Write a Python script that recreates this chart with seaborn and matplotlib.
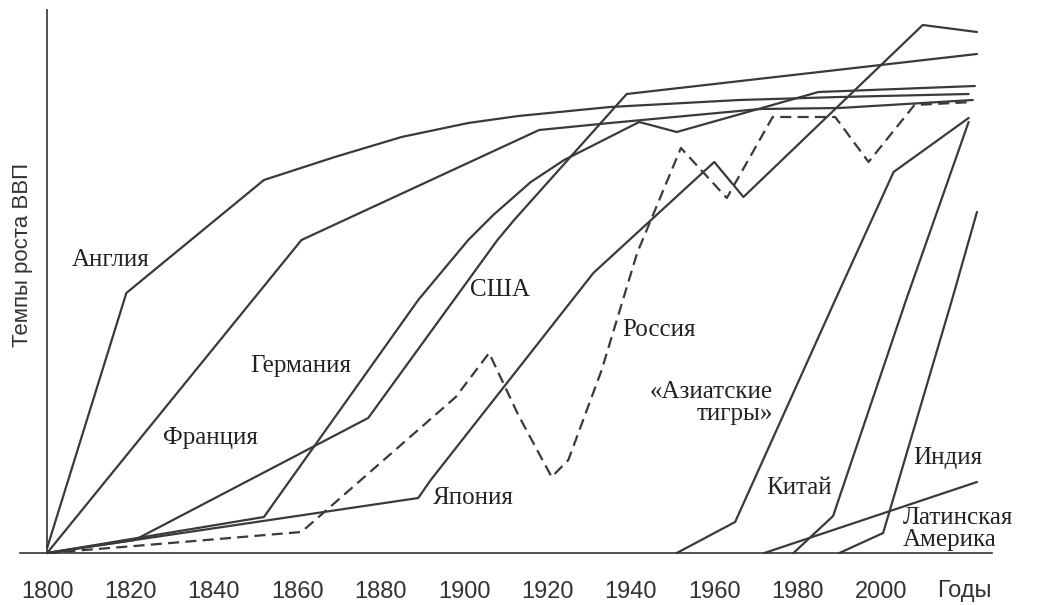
import seaborn as sns
import matplotlib.pyplot as plt
import pandas as pd

# Values (schematic GDP growth curves)
england_years = [1800, 1819, 1852, 1869, 1885, 1901, 1913, 1935, 1966, 1990, 2021]
england_vals = [1, 52, 74.6, 79.2, 83.2, 86, 87.4, 89.2, 90.6, 91.2, 91.8]

france_years = [1800, 1861, 1918, 1935, 1971, 1990, 2022]
france_vals = [0, 62.6, 84.6, 86, 88.8, 89, 90.6]

germany_years = [1800, 1852, 1889, 1895, 1901, 1907, 1916, 1924, 1942, 1951, 1985, 2022.5]
germany_vals = [0, 7.2, 50.6, 56.6, 62.6, 67.6, 74.2, 78.6, 86.2, 84.2, 92.2, 93.4]

usa_years = [1800, 1821, 1877, 1908, 1912, 1921, 1939, 2023]
usa_vals = [0, 2.6, 27, 62.6, 66.6, 75, 91.8, 99.8]

japan_years = [1800, 1889, 1892, 1931, 1960, 1967, 2010, 2023]
japan_vals = [0, 11, 14.6, 56, 78.2, 71.2, 105.6, 104.2]

russia_years = [1800, 1821, 1861, 1898, 1906, 1913, 1921, 1925, 1933, 1941.5,
                1952, 1963, 1974, 1989, 1997, 2008, 2022]
russia_vals = [0, 1.4, 4.2, 31.2, 40, 27.6, 15.2, 18.6, 36.6, 60,
               81, 71, 87.2, 87.2, 78.2, 89.6, 90.2]

tigers_years = [1951, 1965, 1989, 2003, 2021]
tigers_vals = [0, 6.2, 50.6, 76.2, 87]

china_years = [1979, 1988.5, 2006, 2021]
china_vals = [0, 7.4, 50.6, 86.2]

india_years = [1990, 2000.5, 2017, 2023]
india_vals = [0, 4, 50.6, 68.2]

latam_years = [1972, 2023]
latam_vals = [0, 14.2]

tick_years = list(range(1800, 2001, 20))

series = {
    'Англия': (england_years, england_vals),
    'Франция': (france_years, france_vals),
    'Германия': (germany_years, germany_vals),
    'США': (usa_years, usa_vals),
    'Япония': (japan_years, japan_vals),
    'Россия': (russia_years, russia_vals),
    'Тигры': (tigers_years, tigers_vals),
    'Китай': (china_years, china_vals),
    'Индия': (india_years, india_vals),
    'Латинская Америка': (latam_years, latam_vals),
}

# long-form table for seaborn
rows = []
for name, (yrs, vals) in series.items():
    for yr, v in zip(yrs, vals):
        rows.append({'country': name, 'year': yr, 'value': v})
df = pd.DataFrame(rows)

line_col = '#3a3a3a'
text_col = '#222222'

sns.set_style('white')
plt.rcParams['font.family'] = ['Liberation Sans', 'DejaVu Sans']

fig = plt.figure(figsize=(10.37, 6.05), dpi=100)
ax = fig.add_axes([0, 0, 1, 1])

palette = {c: line_col for c in series}
dashes = {c: '' for c in series}
dashes['Россия'] = (5, 2.8)
sns.lineplot(data=df, x='year', y='value', hue='country', style='country',
             palette=palette, dashes=dashes, estimator=None, sort=False,
             linewidth=1.6, legend=False, ax=ax)

ax.set_xlim(1788.7, 2037.4)
ax.set_ylim(-10.4, 110.6)

# axes as in the textbook figure
for s in ['top', 'right']:
    ax.spines[s].set_visible(False)
ax.spines['left'].set_position(('data', 1800))
ax.spines['bottom'].set_position(('data', 0))
ax.spines['left'].set_bounds(0, 108.6)
ax.spines['bottom'].set_bounds(1793.5, 2026.6)
for s in ['left', 'bottom']:
    ax.spines[s].set_color('#333333')
    ax.spines[s].set_linewidth(1.2)

ax.set_xticks(tick_years)
ax.set_xticklabels([str(t) for t in tick_years])
ax.set_yticks([])
ax.tick_params(axis='x', direction='out', length=8, width=1.2, color='#333333',
               labelsize=17, labelcolor='#333333', pad=12)
ax.set_xlabel('')
ax.set_ylabel('')

ax.text(1788.7 + 23 / 4.17, 110.6 - 255 / 5, 'Темпы роста ВВП', rotation=90,
        ha='center', va='center', fontsize=16, color='#333333')
ax.text(2020, -7.6, 'Годы', ha='center', va='center', fontsize=17, color='#333333')

serif = dict(family=['Liberation Serif', 'DejaVu Serif'], fontsize=18, color=text_col)
ax.text(1806, 58.6, 'Англия', ha='left', va='center', **serif)
ax.text(1827.8, 23, 'Франция', ha='left', va='center', **serif)
ax.text(1848.7, 37.4, 'Германия', ha='left', va='center', **serif)
ax.text(1901.4, 52.6, 'США', ha='left', va='center', **serif)
ax.text(1937.9, 44.6, 'Россия', ha='left', va='center', **serif)
ax.text(1974.1, 30, '«Азиатские\nтигры»', ha='right', va='center',
        multialignment='right', linespacing=0.95, **serif)
ax.text(1892.6, 11, 'Япония', ha='left', va='center', **serif)
ax.text(1972.4, 13, 'Китай', ha='left', va='center', **serif)
ax.text(2007.7, 19, 'Индия', ha='left', va='center', **serif)
ax.text(2005.3, 4.8, 'Латинская\nАмерика', ha='left', va='center',
        multialignment='left', linespacing=0.95, **serif)

fig.savefig('out.png', dpi=100, facecolor='white')
